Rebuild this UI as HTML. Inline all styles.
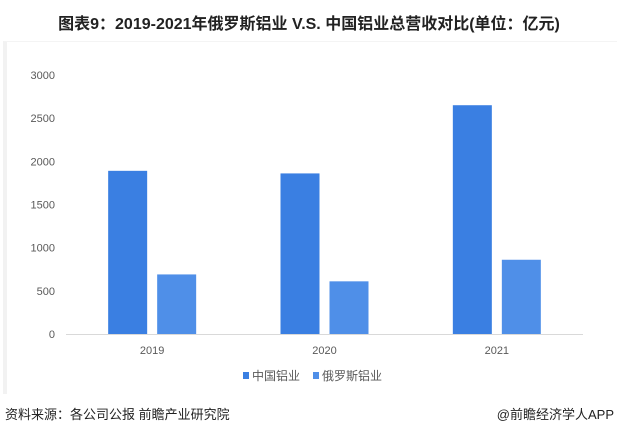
<!DOCTYPE html>
<html><head><meta charset="utf-8"><style>
body{margin:0;width:618px;height:433px;background:#fff;position:relative;overflow:hidden;font-family:"Liberation Sans","Noto Sans CJK SC",sans-serif}
.t{position:absolute;white-space:nowrap}
</style></head><body>
<div class="t" style="left:0;width:618px;text-align:center;top:10px;font-size:16px;font-weight:bold;color:#222">图表9：2019-2021年俄罗斯铝业 V.S. 中国铝业总营收对比(单位：亿元)</div>
<div style="position:absolute;left:3px;top:41px;width:610px;height:352px;border-left:4px solid #f2f2f2;border-top:1px solid #f4f4f4"></div>
<svg id="c" width="618" height="433" style="position:absolute;left:0;top:0"></svg>
<div class="t" style="left:5px;top:404px;font-size:13px;color:#222">资料来源：各公司公报 前瞻产业研究院</div>
<div class="t" style="right:4px;top:404px;font-size:13px;color:#222">@前瞻经济学人APP</div>
<script>
const categories=["2019","2020","2021"];
const chinaValues=[1890,1860,2650];
const russiaValues=[690,610,860];
const yTicks=[0,500,1000,1500,2000,2500,3000];
const seriesNames=["中国铝业","俄罗斯铝业"];
const colors=["#3a7fe2","#4f8fe8"];
const svg=document.getElementById('c');const NS="http://www.w3.org/2000/svg";
const y0=334,y1=75,yMax=3000,x0=66,x1=583;
const y=v=>y0-(v/yMax)*(y0-y1);
const band=(x1-x0)/categories.length;
const cx=i=>x0+band*(i+0.5);
function el(n,a){const e=document.createElementNS(NS,n);for(const k in a)e.setAttribute(k,a[k]);svg.appendChild(e);return e;}
const ax=el('line',{x1:x0,x2:x1,y1:y0+0.5,y2:y0+0.5,stroke:'#d9d9d9'});


yTicks.forEach(v=>{const t=el('text',{x:55,y:y(v)+4,'text-anchor':'end','font-size':11,fill:'#595959'});t.textContent=v;

});
const bw=39;
categories.forEach((c,i)=>{
 const b1=el('rect',{x:cx(i)-44,y:y(chinaValues[i]),width:bw,height:y0-y(chinaValues[i]),fill:colors[0]});
 
 
 const b2=el('rect',{x:cx(i)+5,y:y(russiaValues[i]),width:bw,height:y0-y(russiaValues[i]),fill:colors[1]});
 
 
 const t=el('text',{x:cx(i),y:354,'text-anchor':'middle','font-size':11,fill:'#595959'});t.textContent=c;
 
 
});
const lx=[243,313];
seriesNames.forEach((s,i)=>{
 const r=el('rect',{x:lx[i],y:372,width:6,height:7,fill:colors[i]});
 
 
 const t=el('text',{x:lx[i]+9,y:380,'font-size':12,fill:'#595959'});t.textContent=s;
 
 
});
</script>
</body></html>
